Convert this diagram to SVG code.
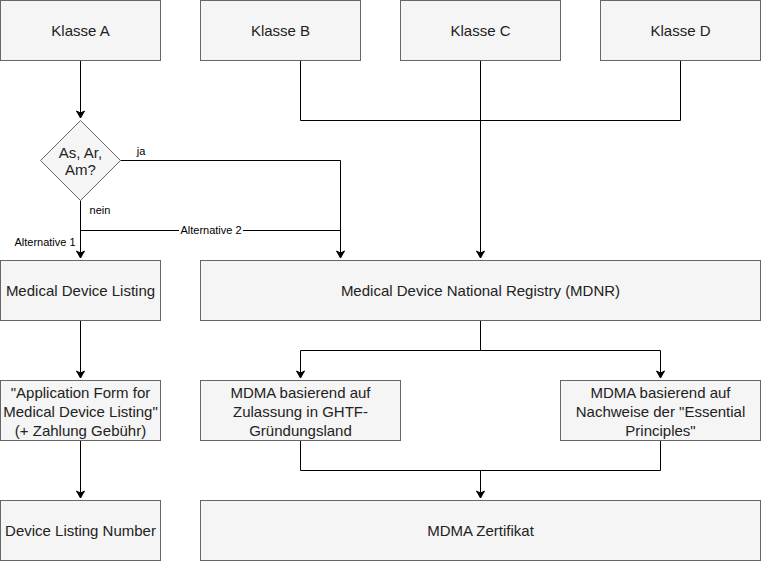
<svg xmlns="http://www.w3.org/2000/svg" width="761" height="561" viewBox="0 0 761 561">
<defs>
<marker id="arr" markerWidth="10" markerHeight="10" refX="8" refY="5" orient="auto" markerUnits="userSpaceOnUse">
<path d="M1,1 L8,5 L1,9 L3,5 Z" fill="#000" stroke="#000" stroke-width="1"/>
</marker>
<style>
.n{fill:#f5f5f5;stroke:#666666;stroke-width:1}
.t{font-family:"Liberation Sans",Arial,sans-serif;font-size:15px;fill:#222222;text-anchor:middle}
.l{font-family:"Liberation Sans",Arial,sans-serif;font-size:11px;fill:#000;text-anchor:middle}
.c{fill:none;stroke:#000;stroke-width:1}
</style>
</defs>
<rect width="761" height="561" fill="#fff"/>
<g id="connectors">
<path class="c" d="M80.5,60.5 V118" marker-end="url(#arr)"/>
<path class="c" d="M120.5,160.5 H340.5 V258" marker-end="url(#arr)"/>
<path class="c" d="M80.5,200.5 V258" marker-end="url(#arr)"/>
<path class="c" d="M80.5,230.5 H340.5"/>
<path class="c" d="M300.5,60.5 V120.5 H680.5 V60.5"/>
<path class="c" d="M480.5,60.5 V258" marker-end="url(#arr)"/>
<path class="c" d="M80.5,320.5 V378" marker-end="url(#arr)"/>
<path class="c" d="M80.5,440.5 V498" marker-end="url(#arr)"/>
<path class="c" d="M480.5,320.5 V350.5 H300.5 V378" marker-end="url(#arr)"/>
<path class="c" d="M480.5,350.5 H660.5 V378" marker-end="url(#arr)"/>
<path class="c" d="M300.5,440.5 V470.5 H660.5 V440.5"/>
<path class="c" d="M480.5,470.5 V498" marker-end="url(#arr)"/>
<text class="l" x="141" y="155">ja</text>
<text class="l" x="100" y="214">nein</text>
<text class="l" x="45" y="246">Alternative 1</text>
<rect x="179" y="224" width="64" height="13" fill="#fff"/>
<text class="l" x="211" y="234">Alternative 2</text>
</g>
<g id="klasseA"><rect class="n" x="0.5" y="0.5" width="160" height="60"/><text class="t" x="80.5" y="35.5">Klasse A</text></g>
<g id="klasseB"><rect class="n" x="200.5" y="0.5" width="160" height="60"/><text class="t" x="280.5" y="35.5">Klasse B</text></g>
<g id="klasseC"><rect class="n" x="400.5" y="0.5" width="160" height="60"/><text class="t" x="480.5" y="35.5">Klasse C</text></g>
<g id="klasseD"><rect class="n" x="600.5" y="0.5" width="160" height="60"/><text class="t" x="680.5" y="35.5">Klasse D</text></g>
<g id="decision"><path class="n" d="M80.5,120.5 L120.5,160.5 L80.5,200.5 L40.5,160.5 Z"/><text class="t" x="80.5" y="158">As, Ar,</text><text class="t" x="80.5" y="175">Am?</text></g>
<g id="mdl"><rect class="n" x="0.5" y="260.5" width="160" height="60"/><text class="t" x="80.5" y="296">Medical Device Listing</text></g>
<g id="mdnr"><rect class="n" x="200.5" y="260.5" width="560" height="60"/><text class="t" x="480.5" y="296">Medical Device National Registry (MDNR)</text></g>
<g id="appform"><rect class="n" x="0.5" y="380.5" width="160" height="60"/><text class="t" x="80.5" y="398">"Application Form for</text><text class="t" x="80.5" y="417">Medical Device Listing"</text><text class="t" x="80.5" y="436">(+ Zahlung Gebühr)</text></g>
<g id="mdma1"><rect class="n" x="200.5" y="380.5" width="200" height="60"/><text class="t" x="300.5" y="398">MDMA basierend auf</text><text class="t" x="300.5" y="417">Zulassung in GHTF-</text><text class="t" x="300.5" y="436">Gründungsland</text></g>
<g id="mdma2"><rect class="n" x="560.5" y="380.5" width="200" height="60"/><text class="t" x="660.5" y="398">MDMA basierend auf</text><text class="t" x="660.5" y="417">Nachweise der "Essential</text><text class="t" x="660.5" y="436">Principles"</text></g>
<g id="dln"><rect class="n" x="0.5" y="500.5" width="160" height="60"/><text class="t" x="80.5" y="536">Device Listing Number</text></g>
<g id="zert"><rect class="n" x="200.5" y="500.5" width="560" height="60"/><text class="t" x="480.5" y="536">MDMA Zertifikat</text></g>
</svg>
